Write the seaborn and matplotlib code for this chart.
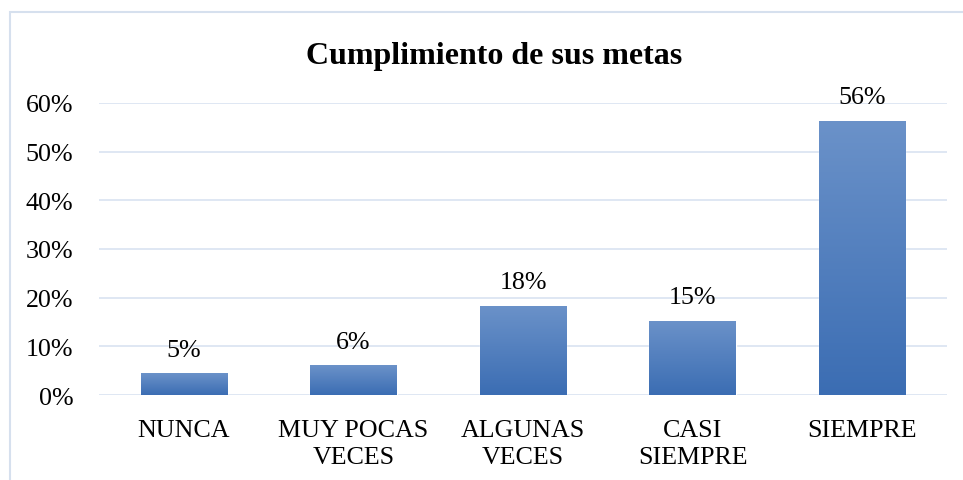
import matplotlib
matplotlib.use("Agg")
import matplotlib.pyplot as plt
import seaborn as sns
import numpy as np
import pandas as pd
from matplotlib.patches import Rectangle
from matplotlib.ticker import FuncFormatter
from matplotlib.colors import LinearSegmentedColormap

categories = ["NUNCA", "MUY POCAS\nVECES", "ALGUNAS\nVECES", "CASI\nSIEMPRE", "SIEMPRE"]
values = [0.045, 0.061, 0.183, 0.153, 0.563]
labels = ["5%", "6%", "18%", "15%", "56%"]
title = "Cumplimiento de sus metas"

sns.set_theme(style="white")
plt.rcParams['font.family'] = ['Liberation Serif', 'DejaVu Serif']

df = pd.DataFrame({"cat": categories, "val": values})

fig = plt.figure(figsize=(9.63, 4.81), dpi=100)
ax = fig.add_axes([0.1028, 0.1767, 0.8806, 0.6071])

sns.barplot(data=df, x="cat", y="val", color="#4f7fc0", width=0.51, ax=ax,
            saturation=1, zorder=3)

# gradient fill on bars
grad = np.linspace(0, 1, 256).reshape(-1, 1)
cmap = LinearSegmentedColormap.from_list("g", ["#3b6db3", "#6b92c9"])
for p in ax.patches:
    x0, y0 = p.get_x(), p.get_y()
    w, h = p.get_width(), p.get_height()
    im = ax.imshow(grad, extent=[x0, x0 + w, y0, y0 + h], origin="lower",
                   cmap=cmap, aspect="auto", zorder=4)
    im.set_clip_path(p)

for p, lab in zip(ax.patches, labels):
    ax.annotate(lab, (p.get_x() + p.get_width() / 2, p.get_height()),
                xytext=(0, 9), textcoords="offset points",
                ha="center", va="bottom", fontsize=18.7, color="black")

ax.set_xlim(-0.5, 4.5)
ax.set_ylim(0, 0.6)
ax.set_yticks(np.arange(0, 0.61, 0.1))
ax.yaxis.set_major_formatter(FuncFormatter(lambda v, _: f"{v*100:.0f}%"))
ax.grid(axis="y", color="#d9e3f1", linewidth=1.2, zorder=0)
ax.set_axisbelow(True)
for s in ax.spines.values():
    s.set_visible(False)
ax.tick_params(axis="y", length=0, pad=18.5, labelsize=18.7, labelcolor="black")
ax.tick_params(axis="x", length=0, pad=17, labelsize=18.7, labelcolor="black")
for t in ax.get_xticklabels():
    t.set_multialignment("center")
    t.set_linespacing(1.3)
ax.set_xlabel("")
ax.set_ylabel("")
ax.set_autoscale_on(False)

fig.text(0.513, 0.882, title, ha="center", va="center", fontsize=23,
         fontweight="bold", color="black")

fig.patches.append(Rectangle((10 / 963, -0.05), 1.2, (481 - 13) / 481 + 0.05,
                             transform=fig.transFigure, fill=False,
                             edgecolor="#d6e0ee", linewidth=1.5))

fig.savefig("out.png", dpi=100)
